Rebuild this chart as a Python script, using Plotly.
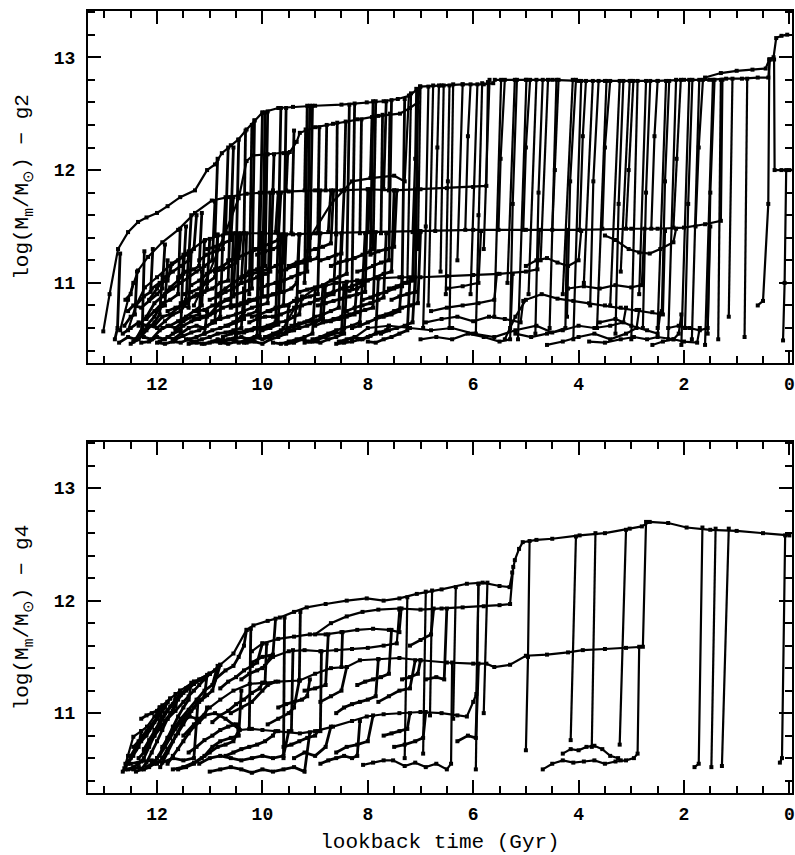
import plotly.graph_objects as go

# ---------------- top panel (g2) ----------------
G2_MAIN_T = [13.02, 12.9, 12.74, 12.55, 12.36, 12.2, 12.0, 11.8, 11.56, 11.28, 11.05, 10.9, 10.77, 10.6,
             10.46, 10.3, 10.15, 10.0, 9.7, 9.42, 9.0, 8.5, 8.02, 7.7, 7.43, 7.2, 7.01, 6.6, 6.2, 5.8,
             5.62, 5.59, 5.0, 4.5, 4.0, 3.5, 3.0, 2.5, 2.0, 1.52, 1.2, 0.9, 0.6, 0.4, 0.37, 0.3, 0.25,
             0.15, 0.04]
G2_MAIN_M = [10.57, 10.9, 11.3, 11.45, 11.54, 11.58, 11.62, 11.68, 11.76, 11.82, 12.0, 12.05, 12.15, 12.22,
             12.27, 12.36, 12.44, 12.51, 12.55, 12.56, 12.57, 12.58, 12.6, 12.61, 12.63, 12.66, 12.74, 12.75,
             12.76, 12.76, 12.77, 12.8, 12.8, 12.8, 12.79, 12.79, 12.79, 12.79, 12.8, 12.8, 12.81, 12.81,
             12.82, 12.82, 12.98, 13.0, 13.17, 13.19, 13.2]

G2_MAJOR = [
    [(12.7, 10.58), (12.55, 10.85), (12.36, 11.11), (12.17, 11.23), (11.9, 11.36), (11.6, 11.47),
     (11.28, 11.62), (10.96, 11.73), (10.65, 11.76), (10.3, 11.79), (10.0, 11.8), (9.5, 11.81),
     (9.0, 11.82), (8.5, 11.82), (8.0, 11.83), (7.5, 11.82), (7.0, 11.83), (6.5, 11.84), (6.0, 11.85),
     (5.75, 11.86), (5.72, 12.78)],
    [(11.3, 10.8), (11.0, 11.1), (10.7, 11.45), (10.45, 11.75), (10.3, 12.08), (10.18, 12.13),
     (9.9, 12.14), (9.6, 12.15), (9.48, 12.16), (9.35, 12.25), (9.29, 12.33), (9.0, 12.38),
     (8.66, 12.41), (8.2, 12.45), (7.8, 12.48), (7.39, 12.5), (7.2, 12.55), (7.05, 12.6), (7.01, 12.74)],
    [(9.1, 11.4), (8.7, 11.7), (8.3, 11.9), (7.9, 11.93), (7.5, 11.95), (7.3, 11.9), (7.22, 12.66)],
    [(12.55, 10.58), (12.4, 10.8), (12.23, 10.96), (12.0, 11.05), (11.72, 11.17), (11.4, 11.28),
     (11.09, 11.38), (10.65, 11.44), (10.0, 11.44), (9.42, 11.43), (9.0, 11.44), (8.0, 11.45),
     (7.0, 11.46), (6.0, 11.47), (5.0, 11.47), (4.0, 11.47), (3.0, 11.48), (2.5, 11.48), (2.0, 11.49),
     (1.6, 11.52), (1.3, 11.55), (1.27, 12.8)],
    [(9.6, 10.6), (9.3, 10.85), (9.0, 10.95), (8.6, 11.0), (8.2, 11.02), (7.8, 11.04), (7.4, 11.05),
     (7.0, 11.05), (6.5, 11.06), (6.0, 11.07), (5.5, 11.08), (5.0, 11.1), (4.78, 11.12), (4.74, 11.47)],
    [(5.4, 10.5), (5.2, 10.7), (5.0, 10.85), (4.7, 10.9), (4.4, 10.86), (4.1, 10.84), (3.8, 10.82),
     (3.5, 10.8), (3.2, 10.78), (2.9, 10.76), (2.6, 10.74), (2.4, 10.72), (2.36, 11.46)],
    [(8.3, 10.5), (8.0, 10.6), (7.6, 10.62), (7.2, 10.6), (6.8, 10.58), (6.4, 10.6), (6.0, 10.55),
     (5.6, 10.52), (5.2, 10.58), (4.8, 10.62), (4.5, 10.56), (4.25, 10.6), (4.22, 11.47)],
    [(1.6, 12.82), (1.3, 12.86), (1.0, 12.88), (0.7, 12.89), (0.45, 12.9), (0.38, 12.98)],
    [(0.0, 12.0), (0.15, 12.0), (0.28, 12.0), (0.29, 12.98)],
]

G2_EARLY = [
    [(12.72, 10.47), (12.55, 10.52), (12.4, 10.5), (12.28, 10.6), (12.24, 11.28)],
    [(12.62, 10.62), (12.5, 10.7), (12.42, 10.72), (12.38, 11.1)],
    [(12.5, 10.46), (12.35, 10.5), (12.2, 10.58), (12.05, 10.65), (11.95, 10.72), (11.9, 11.07)],
    [(12.4, 10.8), (12.25, 10.88), (12.12, 10.92), (12.08, 11.3)],
    [(12.3, 10.47), (12.15, 10.48), (12.0, 10.52), (11.85, 10.5), (11.7, 10.55), (11.55, 10.58), (11.5, 11.25)],
    [(12.2, 10.68), (12.05, 10.75), (11.9, 10.82), (11.75, 10.85), (11.6, 10.9), (11.56, 11.48)],
    [(12.1, 10.95), (11.95, 11.0), (11.8, 11.02), (11.72, 11.17)],
    [(12.0, 10.47), (11.85, 10.46), (11.7, 10.48), (11.55, 10.47), (11.4, 10.5), (11.25, 10.52), (11.1, 10.55), (11.05, 10.75)],
    [(11.9, 10.6), (11.75, 10.62), (11.6, 10.66), (11.45, 10.7), (11.3, 10.75), (11.15, 10.8), (11.1, 11.37)],
    [(11.8, 10.75), (11.65, 10.78), (11.5, 10.8), (11.4, 10.78), (11.35, 11.28)],
    [(11.7, 10.5), (11.55, 10.55), (11.4, 10.6), (11.25, 10.62), (11.1, 10.6), (10.95, 10.65), (10.8, 10.7), (10.75, 11.42)],
    [(11.6, 11.05), (11.45, 11.1), (11.3, 11.12), (11.2, 11.15), (11.15, 11.62)],
    [(11.5, 10.9), (11.35, 10.92), (11.2, 10.95), (11.05, 11.0), (10.9, 11.05), (10.85, 11.43)],
    [(11.4, 10.46), (11.25, 10.47), (11.1, 10.46), (10.95, 10.48), (10.8, 10.47), (10.65, 10.5), (10.5, 10.52), (10.45, 11.44)],
    [(11.3, 10.68), (11.15, 10.7), (11.0, 10.72), (10.85, 10.8), (10.7, 10.85), (10.55, 10.88), (10.5, 11.44)],
    [(11.2, 11.2), (11.05, 11.25), (10.9, 11.28), (10.75, 11.3), (10.7, 11.76)],
    [(11.1, 10.55), (10.95, 10.58), (10.8, 10.6), (10.65, 10.62), (10.5, 10.65), (10.35, 10.68), (10.3, 11.44)],
    [(11.0, 10.85), (10.85, 10.88), (10.7, 10.92), (10.55, 10.95), (10.4, 11.0), (10.35, 11.44)],
    [(10.9, 11.1), (10.75, 11.12), (10.6, 11.15), (10.5, 11.18), (10.45, 12.27)],
    [(10.8, 10.47), (10.65, 10.46), (10.5, 10.48), (10.35, 10.47), (10.2, 10.5), (10.05, 10.52), (10.0, 11.44)],
    [(10.7, 10.62), (10.55, 10.65), (10.4, 10.7), (10.25, 10.72), (10.1, 10.75), (10.05, 11.8)],
    [(10.6, 10.78), (10.45, 10.8), (10.3, 10.82), (10.15, 10.85), (10.0, 10.88), (9.95, 12.51)],
    [(12.6, 10.85), (12.5, 10.9), (12.45, 11.0)],
    [(12.8, 10.5), (12.75, 10.6), (12.7, 11.26)],
    [(10.25, 10.9), (10.2, 12.4)],
    [(10.6, 11.5), (10.55, 12.2)],
]

G2_EXTRA = [
    [(12.65, 10.55), (12.5, 10.6), (12.35, 10.65), (12.2, 10.62), (12.05, 10.7), (11.95, 10.78), (11.85, 10.8), (11.8, 11.2)],
    [(12.55, 10.75), (12.45, 10.8), (12.3, 10.78), (12.15, 10.84), (12.0, 10.9), (11.9, 10.95), (11.85, 11.34)],
    [(12.45, 10.48), (12.3, 10.56), (12.15, 10.62), (12.0, 10.6), (11.85, 10.66), (11.7, 10.72), (11.55, 10.75), (11.45, 10.82), (11.4, 11.27)],
    [(12.35, 10.62), (12.2, 10.7), (12.05, 10.82), (11.9, 10.88), (11.75, 10.96), (11.6, 11.02), (11.5, 11.08), (11.45, 11.5)],
    [(12.25, 10.52), (12.1, 10.5), (11.95, 10.58), (11.8, 10.62), (11.65, 10.6), (11.5, 10.66), (11.35, 10.7), (11.2, 10.72), (11.15, 11.1)],
    [(12.15, 10.85), (12.0, 10.95), (11.85, 11.05), (11.7, 11.1), (11.55, 11.15), (11.4, 11.2), (11.35, 11.6)],
    [(12.05, 10.62), (11.9, 10.7), (11.75, 10.72), (11.6, 10.78), (11.45, 10.85), (11.3, 10.88), (11.15, 10.9), (11.05, 10.95), (11.0, 11.39)],
    [(11.95, 10.48), (11.8, 10.52), (11.65, 10.5), (11.5, 10.53), (11.35, 10.56), (11.2, 10.58), (11.05, 10.62), (10.9, 10.65), (10.85, 11.42)],
    [(11.85, 10.9), (11.7, 10.95), (11.55, 11.0), (11.4, 11.05), (11.25, 11.1), (11.1, 11.15), (10.95, 11.2), (10.9, 11.72)],
    [(11.75, 11.15), (11.6, 11.2), (11.45, 11.25), (11.3, 11.3), (11.25, 11.6)],
    [(11.65, 10.58), (11.5, 10.62), (11.35, 10.66), (11.2, 10.68), (11.05, 10.7), (10.9, 10.74), (10.75, 10.78), (10.6, 10.8), (10.55, 11.44)],
    [(11.55, 10.82), (11.4, 10.85), (11.25, 10.9), (11.1, 10.92), (10.95, 10.95), (10.8, 11.0), (10.65, 11.02), (10.6, 11.76)],
    [(11.45, 10.5), (11.3, 10.48), (11.15, 10.5), (11.0, 10.52), (10.85, 10.55), (10.7, 10.56), (10.55, 10.58), (10.4, 10.6), (10.35, 10.95)],
    [(11.35, 10.98), (11.2, 11.02), (11.05, 11.08), (10.9, 11.12), (10.75, 11.15), (10.6, 11.2), (10.45, 11.22), (10.4, 11.44)],
    [(11.25, 10.75), (11.1, 10.76), (10.95, 10.8), (10.8, 10.82), (10.65, 10.85), (10.5, 10.9), (10.35, 10.92), (10.2, 10.95), (10.15, 12.44)],
    [(11.15, 10.46), (11.0, 10.47), (10.85, 10.5), (10.7, 10.49), (10.55, 10.5), (10.4, 10.52), (10.25, 10.5), (10.1, 10.53), (10.05, 11.44)],
    [(11.05, 11.3), (10.9, 11.32), (10.75, 11.35), (10.6, 11.38), (10.55, 11.76)],
    [(10.95, 10.66), (10.8, 10.68), (10.65, 10.7), (10.5, 10.72), (10.35, 10.75), (10.2, 10.78), (10.05, 10.8), (9.9, 10.82), (9.85, 11.8)],
    [(10.85, 10.9), (10.7, 10.95), (10.55, 11.0), (10.4, 11.05), (10.25, 11.1), (10.1, 11.12), (9.95, 11.15), (9.9, 12.52)],
    [(10.75, 10.52), (10.6, 10.55), (10.45, 10.56), (10.3, 10.58), (10.15, 10.6), (10.0, 10.58), (9.85, 10.6), (9.7, 10.63), (9.65, 11.43)],
    [(10.65, 11.2), (10.5, 11.22), (10.35, 11.25), (10.2, 11.28), (10.05, 11.3), (10.0, 12.51)],
    [(10.55, 10.8), (10.4, 10.82), (10.25, 10.85), (10.1, 10.86), (9.95, 10.88), (9.8, 10.9), (9.65, 10.92), (9.6, 11.43)],
    [(10.45, 10.47), (10.3, 10.5), (10.15, 10.52), (10.0, 10.5), (9.85, 10.52), (9.7, 10.55), (9.55, 10.56), (9.4, 10.58), (9.35, 10.86)],
    [(10.35, 11.05), (10.2, 11.08), (10.05, 11.1), (9.9, 11.12), (9.75, 11.15), (9.6, 11.18), (9.55, 12.55)],
    [(10.25, 10.65), (10.1, 10.68), (9.95, 10.7), (9.8, 10.7), (9.65, 10.72), (9.5, 10.75), (9.35, 10.78), (9.3, 11.43)],
    [(10.15, 11.3), (10.0, 11.32), (9.85, 11.35), (9.7, 11.38), (9.65, 11.8)],
    [(10.05, 10.95), (9.9, 10.98), (9.75, 11.0), (9.6, 11.02), (9.45, 11.05), (9.3, 11.08), (9.15, 11.1), (9.1, 12.57)],
    [(9.95, 10.52), (9.8, 10.55), (9.65, 10.58), (9.5, 10.6), (9.35, 10.62), (9.2, 10.65), (9.05, 10.66), (8.9, 10.68), (8.85, 10.97)],
    [(9.85, 10.75), (9.7, 10.78), (9.55, 10.8), (9.4, 10.84), (9.25, 10.86), (9.1, 10.88), (8.95, 10.9), (8.9, 11.82)],
    [(9.7, 11.1), (9.55, 11.12), (9.4, 11.15), (9.25, 11.18), (9.1, 11.2), (8.95, 11.22), (8.9, 11.44)],
    [(9.55, 10.46), (9.4, 10.47), (9.25, 10.5), (9.1, 10.48), (8.95, 10.5), (8.8, 10.52), (8.65, 10.55), (8.5, 10.56), (8.45, 10.98)],
    [(9.45, 10.62), (9.3, 10.64), (9.15, 10.66), (9.0, 10.7), (8.85, 10.72), (8.7, 10.75), (8.55, 10.78), (8.5, 11.44)],
    [(9.3, 10.92), (9.15, 10.94), (9.0, 10.96), (8.85, 10.98), (8.7, 11.02), (8.55, 11.05), (8.4, 11.08), (8.35, 12.58)],
    [(9.15, 11.28), (9.0, 11.3), (8.85, 11.32), (8.7, 11.35), (8.65, 11.82)],
    [(9.05, 10.5), (8.9, 10.52), (8.75, 10.55), (8.6, 10.58), (8.45, 10.6), (8.3, 10.62), (8.15, 10.65), (8.1, 11.02)],
    [(8.95, 10.8), (8.8, 10.82), (8.65, 10.84), (8.5, 10.86), (8.35, 10.88), (8.2, 10.9), (8.05, 10.92), (8.0, 11.83)],
    [(8.8, 10.66), (8.65, 10.68), (8.5, 10.7), (8.35, 10.72), (8.2, 10.74), (8.05, 10.76), (7.9, 10.78), (7.85, 11.45)],
    [(8.7, 11.15), (8.55, 11.18), (8.4, 11.2), (8.25, 11.22), (8.1, 11.25), (7.95, 11.28), (7.9, 12.61)],
    [(8.55, 10.48), (8.4, 10.5), (8.25, 10.52), (8.1, 10.5), (7.95, 10.53), (7.8, 10.56), (7.65, 10.58), (7.6, 10.62)],
    [(8.45, 10.95), (8.3, 10.97), (8.15, 11.0), (8.0, 11.02), (7.85, 11.05), (7.7, 11.08), (7.55, 11.1), (7.5, 11.82)],
    [(8.3, 10.6), (8.15, 10.62), (8.0, 10.65), (7.85, 10.68), (7.7, 10.7), (7.55, 10.72), (7.4, 10.75), (7.35, 11.05)],
    [(8.1, 10.85), (7.95, 10.87), (7.8, 10.9), (7.65, 10.92), (7.5, 10.95), (7.35, 10.97), (7.3, 12.63)],
    [(7.95, 11.25), (7.8, 11.28), (7.65, 11.3), (7.5, 11.32), (7.45, 11.82)],
    [(7.75, 10.55), (7.6, 10.58), (7.45, 10.6), (7.3, 10.62), (7.15, 10.65), (7.1, 11.05)],
    [(7.55, 10.85), (7.4, 10.88), (7.25, 10.9), (7.1, 10.92), (7.05, 12.7)],
    [(10.9, 11.42), (10.85, 12.1)], [(10.7, 11.44), (10.65, 12.2)], [(10.35, 11.44), (10.32, 12.35)],
    [(9.95, 11.44), (9.92, 12.14)], [(9.8, 11.82), (9.78, 12.14)], [(9.55, 11.82), (9.52, 12.15)],
    [(9.45, 11.44), (9.4, 12.35)], [(9.2, 11.82), (9.18, 12.36)], [(8.95, 11.44), (8.92, 12.38)],
    [(8.8, 11.82), (8.78, 12.4)], [(8.6, 11.44), (8.58, 12.42)], [(8.45, 11.82), (8.42, 12.43)],
    [(8.15, 11.44), (8.12, 12.45)], [(7.95, 11.93), (7.92, 12.47)], [(7.75, 11.44), (7.72, 12.49)],
    [(7.6, 11.82), (7.58, 12.5)],
]

G2_MID = [
    [(10.5, 10.55), (10.35, 10.56), (10.2, 10.58), (10.05, 10.6), (9.9, 10.62), (9.75, 10.65), (9.7, 11.44)],
    [(10.4, 11.0), (10.25, 11.02), (10.1, 11.05), (9.95, 11.08), (9.85, 11.1), (9.8, 11.8)],
    [(10.3, 10.47), (10.15, 10.48), (10.0, 10.46), (9.85, 10.5), (9.7, 10.52), (9.55, 10.55), (9.5, 10.8)],
    [(10.2, 10.7), (10.05, 10.72), (9.9, 10.75), (9.75, 10.78), (9.6, 10.8), (9.55, 11.43)],
    [(10.1, 11.25), (9.95, 11.28), (9.8, 11.3), (9.7, 11.32), (9.65, 12.55)],
    [(10.0, 10.6), (9.85, 10.62), (9.7, 10.65), (9.55, 10.66), (9.4, 10.7), (9.3, 10.72), (9.25, 10.88)],
    [(9.9, 10.88), (9.75, 10.9), (9.6, 10.92), (9.45, 10.95), (9.35, 11.0), (9.3, 11.43)],
    [(9.8, 10.47), (9.65, 10.46), (9.5, 10.48), (9.35, 10.5), (9.2, 10.52), (9.05, 10.55), (9.0, 10.95)],
    [(9.6, 10.55), (9.45, 10.58), (9.3, 10.6), (9.15, 10.62), (9.0, 10.65), (8.85, 10.68), (8.8, 10.98)],
    [(9.5, 11.15), (9.35, 11.18), (9.2, 11.2), (9.1, 11.22), (9.05, 12.57)],
    [(9.4, 10.78), (9.25, 10.8), (9.1, 10.82), (8.95, 10.85), (8.8, 10.88), (8.65, 10.9), (8.6, 11.43)],
    [(9.2, 10.47), (9.05, 10.48), (8.9, 10.47), (8.75, 10.5), (8.6, 10.52), (8.45, 10.55), (8.4, 11.01)],
    [(9.0, 10.62), (8.85, 10.65), (8.7, 10.66), (8.55, 10.68), (8.4, 10.7), (8.25, 10.72), (8.2, 11.02)],
    [(8.9, 11.2), (8.75, 11.22), (8.6, 11.25), (8.5, 11.26), (8.45, 11.82)],
    [(8.8, 10.9), (8.65, 10.92), (8.5, 10.95), (8.35, 10.93), (8.2, 10.95), (8.1, 10.98), (8.05, 11.44)],
    [(8.6, 10.46), (8.45, 10.47), (8.3, 10.48), (8.15, 10.5), (8.0, 10.52), (7.85, 10.55), (7.8, 11.04)],
    [(8.4, 10.75), (8.25, 10.78), (8.1, 10.8), (7.95, 10.82), (7.8, 10.85), (7.7, 10.87), (7.65, 11.44)],
    [(8.2, 11.1), (8.05, 11.12), (7.9, 11.15), (7.75, 11.18), (7.6, 11.2), (7.55, 12.62)],
    [(8.0, 10.48), (7.85, 10.47), (7.7, 10.5), (7.55, 10.52), (7.4, 10.55), (7.25, 10.58), (7.2, 11.05)],
    [(7.8, 10.7), (7.65, 10.72), (7.5, 10.75), (7.35, 10.78), (7.2, 10.8), (7.05, 10.82), (7.0, 11.45)],
    [(7.6, 10.95), (7.45, 10.97), (7.3, 11.0), (7.15, 11.02), (7.1, 11.83)],
    [(9.2, 11.0), (9.15, 12.57)],
    [(8.3, 10.95), (8.25, 12.59)],
    [(7.9, 11.3), (7.85, 12.61)],
    [(9.75, 11.45), (9.7, 11.8)],
    [(8.75, 11.45), (8.7, 11.82)],
    [(8.0, 11.45), (7.95, 11.83)],
    [(7.7, 11.83), (7.65, 12.61)],
]

G2_RIGHT = [
    [(7.0, 10.5), (6.7, 10.52), (6.4, 10.5), (6.1, 10.55), (5.8, 10.52), (5.5, 10.48), (5.3, 10.5), (5.25, 11.08)],
    [(6.8, 10.75), (6.5, 10.78), (6.2, 10.8), (5.9, 10.82), (5.6, 10.85), (5.55, 11.08)],
    [(6.5, 10.95), (6.2, 10.97), (5.9, 11.0), (5.85, 11.46)],
    [(4.6, 10.45), (4.3, 10.48), (4.0, 10.52), (3.7, 10.55), (3.4, 10.5), (3.1, 10.55), (2.9, 10.6), (2.85, 10.76)],
    [(3.6, 10.65), (3.3, 10.68), (3.0, 10.62), (2.7, 10.58), (2.5, 10.55), (2.45, 10.73)],
    [(3.5, 11.42), (3.3, 11.38), (3.05, 11.3), (2.85, 11.27), (2.65, 11.26), (2.45, 11.3), (2.2, 11.36), (2.15, 11.48)],
    [(2.6, 10.45), (2.4, 10.48), (2.2, 10.5), (2.0, 10.48), (1.75, 10.47), (1.7, 10.6)],
    [(5.0, 11.15), (4.8, 11.2), (4.6, 11.22), (4.4, 11.18), (4.2, 11.15), (4.0, 11.2), (3.95, 11.46)],
    [(6.9, 10.65), (6.6, 10.68), (6.3, 10.7), (6.0, 10.66), (5.7, 10.7), (5.4, 10.68), (5.1, 10.65), (5.05, 10.84)],
    [(5.2, 10.55), (4.9, 10.52), (4.6, 10.55), (4.3, 10.58), (4.0, 10.62), (3.7, 10.6), (3.4, 10.62), (3.15, 10.65), (3.1, 10.78)],
    [(4.2, 10.95), (3.9, 10.97), (3.6, 10.95), (3.3, 10.98), (3.0, 10.96), (2.8, 10.98), (2.75, 11.48)],
    [(3.8, 10.48), (3.5, 10.47), (3.2, 10.5), (2.95, 10.52), (2.7, 10.5), (2.5, 10.52), (2.2, 10.5), (2.1, 10.55), (2.05, 10.72)],
    [(2.3, 10.6), (2.1, 10.62), (1.9, 10.6), (1.7, 10.58), (1.55, 10.6), (1.5, 11.5)],
]

G2_LATE = [
    [(7.25, 11.0), (7.18, 12.68)], [(7.05, 11.3), (7.0, 12.74)], [(6.85, 10.8), (6.76, 12.75)],
    [(6.62, 11.1), (6.56, 12.75)], [(6.45, 10.6), (6.38, 12.76)], [(6.3, 11.2), (6.2, 12.76)],
    [(6.05, 10.9), (5.92, 12.76)], [(5.8, 11.3), (5.69, 12.8)], [(5.6, 10.7), (5.47, 12.8)],
    [(5.35, 11.0), (5.21, 12.8)], [(5.15, 10.5), (4.99, 12.8)], [(4.95, 10.9), (4.8, 12.8)],
    [(4.72, 11.2), (4.58, 12.8)], [(4.55, 10.6), (4.42, 12.8)], [(4.3, 10.9), (4.11, 12.8)],
    [(4.1, 10.5), (3.95, 12.79)], [(3.9, 11.0), (3.73, 12.79)], [(3.65, 10.6), (3.47, 12.79)],
    [(3.4, 10.8), (3.22, 12.79)], [(3.2, 11.1), (3.03, 12.79)], [(3.0, 10.5), (2.88, 12.79)],
    [(2.85, 10.9), (2.72, 12.79)], [(2.5, 10.6), (2.34, 12.79)], [(2.3, 10.5), (2.15, 12.8)],
    [(2.05, 10.45), (1.9, 12.8)], [(1.85, 10.5), (1.71, 12.8)], [(1.6, 10.45), (1.45, 12.8)],
    [(1.35, 10.5), (1.3, 12.8)], [(1.15, 10.7), (1.08, 12.81)], [(0.85, 10.52), (0.8, 12.81)],
    [(0.6, 10.8), (0.5, 10.84), (0.4, 11.7), (0.38, 12.98)], [(0.12, 10.49), (0.09, 11.0), (0.06, 12.0)],
    [(7.15, 11.45), (7.1, 12.1), (7.08, 12.72)], [(6.95, 10.6), (6.9, 11.5), (6.85, 12.74)],
    [(6.72, 11.46), (6.68, 12.2), (6.65, 12.75)], [(6.52, 10.9), (6.48, 11.9), (6.45, 12.75)],
    [(6.15, 11.47), (6.1, 12.3), (6.05, 12.76)], [(5.95, 10.55), (5.9, 11.6), (5.83, 12.77)],
    [(5.52, 11.47), (5.48, 12.1), (5.4, 12.8)], [(5.3, 10.6), (5.25, 11.7), (5.17, 12.8)],
    [(5.05, 11.47), (5.0, 12.2), (4.92, 12.8)], [(4.82, 10.55), (4.76, 11.8), (4.68, 12.8)],
    [(4.5, 11.47), (4.45, 12.0), (4.38, 12.8)], [(4.22, 10.7), (4.16, 11.9), (4.05, 12.8)],
    [(3.98, 11.47), (3.92, 12.3), (3.86, 12.79)], [(3.78, 10.8), (3.72, 11.9), (3.62, 12.79)],
    [(3.55, 11.48), (3.5, 12.2), (3.4, 12.79)], [(3.3, 10.55), (3.24, 11.7), (3.15, 12.79)],
    [(3.1, 11.48), (3.05, 12.0), (2.96, 12.79)], [(2.78, 10.6), (2.72, 11.8), (2.64, 12.79)],
    [(2.62, 11.48), (2.56, 12.3), (2.5, 12.79)], [(2.42, 10.75), (2.36, 11.9), (2.28, 12.79)],
    [(2.2, 11.49), (2.14, 12.1), (2.06, 12.8)], [(1.98, 10.6), (1.92, 11.7), (1.84, 12.8)],
    [(1.78, 11.5), (1.72, 12.2), (1.64, 12.8)], [(1.55, 10.55), (1.5, 11.8), (1.42, 12.8)],
]

# ---------------- bottom panel (g4) ----------------
G4_MAIN_T = [12.62, 12.55, 12.45, 12.3, 12.19, 12.05, 11.94, 11.75, 11.56, 11.3, 11.0, 10.8, 10.55, 10.3,
             10.17, 9.9, 9.67, 9.4, 9.16, 8.8, 8.4, 8.02, 7.7, 7.4, 7.07, 6.6, 6.12, 5.82, 5.5, 5.31, 5.26,
             5.21, 5.13, 5.06, 4.8, 4.5, 3.98, 3.5, 3.03, 2.8, 2.65, 2.3, 1.95, 1.5, 1.0, 0.5, 0.0]
G4_MAIN_M = [10.51, 10.62, 10.79, 10.84, 10.88, 10.97, 11.05, 11.13, 11.2, 11.28, 11.35, 11.43, 11.53, 11.74,
             11.78, 11.82, 11.85, 11.9, 11.94, 11.97, 12.0, 12.02, 12.0, 12.02, 12.06, 12.1, 12.15, 12.16,
             12.13, 12.12, 12.25, 12.36, 12.46, 12.52, 12.54, 12.55, 12.58, 12.6, 12.64, 12.66, 12.7, 12.69,
             12.65, 12.63, 12.62, 12.6, 12.58]

G4_MAJOR = [
    [(9.0, 11.7), (8.7, 11.8), (8.4, 11.86), (8.1, 11.9), (7.8, 11.92), (7.4, 11.93), (7.0, 11.92),
     (6.6, 11.93), (6.2, 11.94), (5.8, 11.95), (5.5, 11.96), (5.3, 11.97), (5.24, 12.3)],
    [(10.2, 11.55), (10.0, 11.62), (9.7, 11.66), (9.4, 11.68), (9.1, 11.7), (8.8, 11.7), (8.5, 11.72),
     (8.2, 11.74), (7.9, 11.75), (7.6, 11.74), (7.4, 11.72), (7.36, 11.93)],
    [(10.0, 11.4), (9.8, 11.5), (9.5, 11.55), (9.2, 11.56), (8.9, 11.55), (8.6, 11.56), (8.3, 11.57),
     (8.0, 11.58), (7.7, 11.6), (7.45, 11.62), (7.4, 11.92)],
    [(11.2, 10.95), (11.0, 11.05), (10.8, 11.12), (10.55, 11.2), (10.24, 11.26), (10.0, 11.27),
     (9.7, 11.28), (9.29, 11.29), (9.0, 11.35), (8.7, 11.4), (8.4, 11.41), (8.15, 11.47), (7.8, 11.48),
     (7.4, 11.49), (7.0, 11.47), (6.5, 11.45), (6.0, 11.44), (5.75, 11.44), (5.6, 11.41), (5.3, 11.43),
     (5.0, 11.51), (4.6, 11.52), (4.2, 11.54), (3.92, 11.56), (3.5, 11.57), (3.1, 11.58), (2.78, 11.59),
     (2.72, 12.7)],
    [(10.43, 10.85), (10.2, 10.86), (10.0, 10.85), (9.7, 10.84), (9.29, 10.82), (9.0, 10.84),
     (8.66, 10.88), (8.3, 10.93), (8.02, 10.97), (7.7, 10.99), (7.4, 11.0), (7.0, 11.01), (6.6, 11.0),
     (6.3, 10.98), (6.12, 10.97), (6.0, 11.1), (5.94, 11.17), (5.9, 12.15)],
    [(8.09, 10.54), (7.9, 10.56), (7.7, 10.58), (7.52, 10.58), (7.3, 10.53), (7.1, 10.56), (6.9, 10.52),
     (6.7, 10.55), (6.5, 10.5), (6.42, 10.55), (6.4, 11.45)],
    [(4.68, 10.5), (4.5, 10.55), (4.3, 10.58), (4.1, 10.56), (3.9, 10.57), (3.7, 10.58), (3.5, 10.55),
     (3.3, 10.57), (3.1, 10.58), (2.95, 10.6), (2.88, 10.64), (2.85, 11.59)],
    [(4.3, 10.64), (4.15, 10.68), (4.0, 10.67), (3.85, 10.7), (3.7, 10.71), (3.55, 10.68), (3.4, 10.62),
     (3.25, 10.6), (3.2, 10.58)],
]

G4_SMALL = [
    [(12.65, 10.48), (12.55, 10.55), (12.45, 10.62), (12.35, 10.7), (12.3, 10.84)],
    [(12.55, 10.5), (12.45, 10.52), (12.35, 10.55), (12.25, 10.6), (12.15, 10.7), (12.05, 10.8), (11.95, 10.9), (11.9, 11.07)],
    [(12.4, 10.48), (12.3, 10.5), (12.2, 10.56), (12.1, 10.65), (12.0, 10.75), (11.9, 10.85), (11.8, 10.95), (11.7, 11.02), (11.65, 11.17)],
    [(12.2, 10.52), (12.1, 10.55), (12.0, 10.6), (11.9, 10.68), (11.8, 10.78), (11.7, 10.88), (11.6, 10.97), (11.5, 11.05), (11.4, 11.12), (11.35, 11.27)],
    [(12.0, 10.55), (11.9, 10.6), (11.8, 10.68), (11.7, 10.75), (11.6, 10.82), (11.5, 10.9), (11.4, 10.98), (11.3, 11.05), (11.2, 11.1), (11.1, 11.15), (11.05, 11.34)],
    [(11.9, 10.7), (11.8, 10.78), (11.7, 10.85), (11.55, 10.95), (11.4, 11.03), (11.25, 11.12), (11.1, 11.2), (10.95, 11.25), (10.85, 11.42)],
    [(12.5, 10.55), (12.3, 10.57), (12.1, 10.58), (11.9, 10.56), (11.7, 10.6), (11.5, 10.58), (11.3, 10.6), (11.22, 11.12)],
    [(11.7, 10.5), (11.5, 10.52), (11.3, 10.56), (11.1, 10.62), (10.95, 10.7), (10.8, 10.75), (10.6, 10.78), (10.45, 10.8), (10.4, 11.2)],
    [(11.2, 10.55), (11.0, 10.6), (10.8, 10.62), (10.6, 10.6), (10.4, 10.58), (10.2, 10.6), (10.0, 10.62), (9.8, 10.6), (9.6, 10.62), (9.5, 10.84)],
    [(11.0, 10.48), (10.8, 10.5), (10.6, 10.52), (10.4, 10.5), (10.2, 10.47), (10.0, 10.5), (9.8, 10.48), (9.6, 10.5), (9.4, 10.52), (9.2, 10.48), (9.1, 10.83)],
    [(11.5, 10.8), (11.3, 10.9), (11.1, 10.98), (10.9, 11.0), (10.7, 10.95), (10.55, 10.9), (10.45, 10.86)],
    [(10.9, 11.3), (10.7, 11.38), (10.55, 11.42), (10.45, 11.5), (10.35, 11.6), (10.3, 11.74)],
    [(10.6, 11.0), (10.4, 11.05), (10.2, 11.1), (10.0, 11.2), (9.9, 11.25), (9.75, 11.28)],
    [(9.9, 10.9), (9.7, 10.95), (9.5, 11.0), (9.4, 11.05), (9.3, 11.29)],
    [(9.4, 10.6), (9.2, 10.65), (9.0, 10.62), (8.8, 10.7), (8.7, 10.88)],
    [(8.9, 11.1), (8.7, 11.15), (8.5, 11.2), (8.4, 11.41)],
    [(8.6, 10.65), (8.4, 10.7), (8.2, 10.72), (8.0, 10.75), (7.9, 10.98)],
    [(9.2, 11.2), (9.0, 11.22), (8.8, 11.25), (8.75, 11.7)],
    [(7.8, 11.1), (7.6, 11.15), (7.4, 11.2), (7.2, 11.22), (7.1, 11.47)],
    [(7.5, 10.7), (7.3, 10.72), (7.1, 10.75), (6.95, 10.78), (6.9, 11.01)],
    [(7.2, 11.6), (7.0, 11.65), (6.8, 11.7), (6.75, 11.93)],
    [(6.9, 11.3), (6.7, 11.32), (6.55, 11.3), (6.5, 11.93)],
    [(6.3, 10.75), (6.1, 10.8), (5.95, 10.78), (5.9, 11.44)],
    [(10.2, 11.45), (10.0, 11.5), (9.8, 11.52), (9.75, 11.84)],
    [(12.3, 10.95), (12.2, 10.98), (12.1, 11.0), (12.0, 11.02), (11.95, 11.05)],
    [(12.45, 10.7), (12.35, 10.75), (12.25, 10.8), (12.15, 10.85), (12.05, 10.92), (11.95, 10.98), (11.85, 11.05), (11.8, 11.1)],
    [(11.8, 10.95), (11.65, 11.02), (11.5, 11.1), (11.4, 11.15), (11.3, 11.2), (11.2, 11.25), (11.1, 11.3), (11.0, 11.35)],
    [(11.6, 11.15), (11.45, 11.2), (11.3, 11.26), (11.15, 11.3), (11.0, 11.35), (10.9, 11.38)],
    [(12.6, 10.55), (12.5, 10.6), (12.4, 10.68), (12.3, 10.75), (12.2, 10.8), (12.1, 10.88), (12.0, 10.95), (11.95, 11.05)],
    [(12.5, 10.62), (12.4, 10.7), (12.3, 10.78), (12.2, 10.84), (12.1, 10.9), (12.0, 10.97), (11.9, 11.02), (11.8, 11.1), (11.75, 11.13)],
    [(12.35, 10.6), (12.25, 10.65), (12.15, 10.72), (12.05, 10.8), (11.95, 10.86), (11.85, 10.93), (11.75, 11.0), (11.65, 11.06), (11.56, 11.2)],
    [(12.25, 10.68), (12.15, 10.76), (12.05, 10.85), (11.95, 10.92), (11.85, 11.0), (11.75, 11.06), (11.65, 11.12), (11.55, 11.16), (11.45, 11.22), (11.3, 11.28)],
    [(12.1, 10.78), (12.0, 10.86), (11.9, 10.95), (11.8, 11.02), (11.7, 11.08), (11.6, 11.12), (11.5, 11.18), (11.4, 11.22), (11.3, 11.26), (11.2, 11.3), (11.0, 11.35)],
    [(11.95, 10.62), (11.85, 10.7), (11.75, 10.78), (11.65, 10.86), (11.55, 10.92), (11.45, 10.98), (11.35, 11.02), (11.25, 11.08), (11.15, 11.12), (11.05, 11.16), (10.95, 11.2), (10.8, 11.43)],
    [(11.8, 10.55), (11.7, 10.62), (11.6, 10.68), (11.5, 10.75), (11.4, 10.82), (11.3, 10.88), (11.2, 10.92), (11.1, 10.97), (11.05, 11.05)],
    [(12.6, 10.5), (12.45, 10.5), (12.35, 10.52), (12.25, 10.5), (12.15, 10.52), (12.05, 10.55), (12.0, 10.6)],
    [(11.6, 10.5), (11.45, 10.52), (11.3, 10.55), (11.15, 10.6), (11.0, 10.65), (10.85, 10.7), (10.7, 10.72), (10.55, 10.75), (10.45, 10.85)],
    [(11.4, 10.65), (11.25, 10.7), (11.1, 10.76), (10.95, 10.8), (10.8, 10.85), (10.65, 10.88), (10.5, 10.9), (10.45, 10.86)],
    [(10.95, 10.92), (10.8, 10.98), (10.65, 11.02), (10.5, 11.08), (10.35, 11.12), (10.2, 11.18), (10.05, 11.22), (10.0, 11.27)],
    [(10.8, 11.22), (10.65, 11.28), (10.5, 11.32), (10.35, 11.38), (10.2, 11.42), (10.1, 11.45), (10.0, 11.62)],
    [(10.7, 10.62), (10.55, 10.65), (10.4, 10.68), (10.25, 10.7), (10.1, 10.72), (9.95, 10.75), (9.8, 10.8), (9.75, 10.84)],
    [(10.4, 11.3), (10.25, 11.35), (10.1, 11.38), (9.95, 11.42), (9.85, 11.5)],
    [(9.6, 10.7), (9.45, 10.72), (9.3, 10.75), (9.15, 10.78), (9.0, 10.8), (8.95, 10.84)],
    [(9.7, 11.05), (9.55, 11.08), (9.4, 11.1), (9.25, 11.12), (9.15, 11.15), (9.1, 11.3)],
    [(8.9, 10.55), (8.75, 10.58), (8.6, 10.6), (8.45, 10.62), (8.3, 10.6), (8.2, 10.62), (8.15, 10.93)],
    [(8.6, 11.0), (8.45, 11.05), (8.3, 11.08), (8.15, 11.1), (8.0, 11.12), (7.85, 11.15), (7.8, 11.48)],
    [(8.2, 11.25), (8.05, 11.28), (7.9, 11.3), (7.75, 11.32), (7.6, 11.35), (7.55, 11.74)],
    [(7.7, 10.8), (7.55, 10.82), (7.4, 10.84), (7.25, 10.86), (7.2, 11.0)],
    [(7.35, 11.3), (7.2, 11.32), (7.05, 11.35), (7.0, 11.47)],
    [(10.25, 10.86), (10.22, 11.75)], [(9.95, 11.27), (9.92, 11.62)], [(9.6, 10.6), (9.58, 11.85)],
    [(9.45, 10.84), (9.42, 11.56)], [(9.3, 11.29), (9.28, 11.9)], [(8.9, 10.84), (8.88, 11.55)],
    [(8.5, 11.41), (8.48, 11.72)],
    [(11.94, 10.52), (11.8, 10.65), (11.65, 10.8), (11.5, 10.93), (11.38, 10.97), (11.25, 10.95)],
]

G4_LATE = [
    [(7.3, 10.6), (7.25, 12.03)], [(6.95, 10.64), (6.9, 12.08)], [(6.82, 10.98), (6.78, 12.09)],
    [(6.38, 10.95), (6.33, 12.12)], [(5.95, 10.5), (5.9, 12.15)], [(5.8, 11.0), (5.73, 12.16)],
    [(5.0, 10.67), (4.96, 11.5), (4.93, 12.53)], [(4.15, 10.76), (4.05, 12.57)], [(3.75, 10.7), (3.68, 12.6)],
    [(3.22, 10.72), (3.1, 12.63)], [(1.8, 10.52), (1.72, 10.55), (1.65, 12.65)], [(1.48, 10.52), (1.4, 12.64)],
    [(1.28, 10.53), (1.15, 12.64)], [(0.18, 10.56), (0.14, 10.6), (0.08, 12.58)],
]

X_TICKS = [12, 10, 8, 6, 4, 2, 0]
Y_TICKS = [11, 12, 13]
X_RANGE = [13.31, -0.05]
Y_RANGE = [10.29, 13.41]


def collect(groups, main_t=None, main_m=None):
    xs, ys = [], []
    if main_t is not None:
        xs, ys = list(main_t) + [None], list(main_m) + [None]
    for grp in groups:
        for br in grp:
            for t, m in br:
                xs.append(t)
                ys.append(m)
            xs.append(None)
            ys.append(None)
    return xs, ys


fig = go.Figure()


def add(xs, ys, xa, ya, width, msize):
    fig.add_trace(go.Scatter(x=xs, y=ys, mode="lines+markers",
                             line=dict(color="black", width=width),
                             marker=dict(color="black", size=msize, symbol="square"),
                             xaxis=xa, yaxis=ya, showlegend=False, hoverinfo="skip"))


# dense early progenitors drawn slightly heavier (merged, low-resolution look)
add(*collect([G2_EARLY, G2_EXTRA, G2_MID]), "x", "y", 2.8, 4)
add(*collect([G2_MAJOR, G2_RIGHT, G2_LATE], G2_MAIN_T, G2_MAIN_M), "x", "y", 2.2, 4)
add(*collect([G4_SMALL]), "x2", "y2", 2.8, 4)
add(*collect([G4_MAJOR, G4_LATE], G4_MAIN_T, G4_MAIN_M), "x2", "y2", 2.2, 4)

tickfont = dict(family="Liberation Mono", size=18, color="black", weight="bold")
titlefont = dict(family="Liberation Mono", size=21, color="black")


def xax(anchor, title=None):
    d = dict(anchor=anchor, range=X_RANGE, tickvals=X_TICKS, ticktext=[str(v) for v in X_TICKS],
             ticks="inside", ticklen=13, tickwidth=2, tickcolor="black", ticklabelstandoff=3,
             minor=dict(dtick=0.5, tick0=0, ticks="inside", ticklen=7, tickwidth=2, tickcolor="black"),
             showline=True, linewidth=2, linecolor="black", mirror="allticks",
             showgrid=False, zeroline=False, tickfont=tickfont, automargin=False)
    if title:
        d["title"] = dict(text=title, font=titlefont, standoff=10)
    return d


def yax(anchor, domain, title):
    return dict(anchor=anchor, domain=domain, range=Y_RANGE, tickvals=Y_TICKS,
                ticktext=[str(v) for v in Y_TICKS],
                ticks="inside", ticklen=13, tickwidth=2, tickcolor="black", ticklabelstandoff=7,
                minor=dict(dtick=0.2, tick0=11, ticks="inside", ticklen=7, tickwidth=2, tickcolor="black"),
                showline=True, linewidth=2, linecolor="black", mirror="allticks",
                showgrid=False, zeroline=False, tickfont=tickfont, automargin=False,
                title=dict(text=title, font=titlefont, standoff=19))


fig.update_layout(
    width=795, height=855,
    margin=dict(l=88, r=3, t=11, b=62),
    paper_bgcolor="white", plot_bgcolor="white",
    xaxis=xax("y"),
    yaxis=yax("x", [0.5499, 1.0], "log(M<sub>m</sub>/M<sub>\u2299</sub>) \u2212 g2"),
    xaxis2=xax("y2", "lookback time (Gyr)"),
    yaxis2=yax("x2", [0.0, 0.4488], "log(M<sub>m</sub>/M<sub>\u2299</sub>) \u2212 g4"),
)

fig.write_html("out.html", config={"displayModeBar": False},
               post_script="document.body.style.margin='0';document.body.style.overflow='hidden';")
